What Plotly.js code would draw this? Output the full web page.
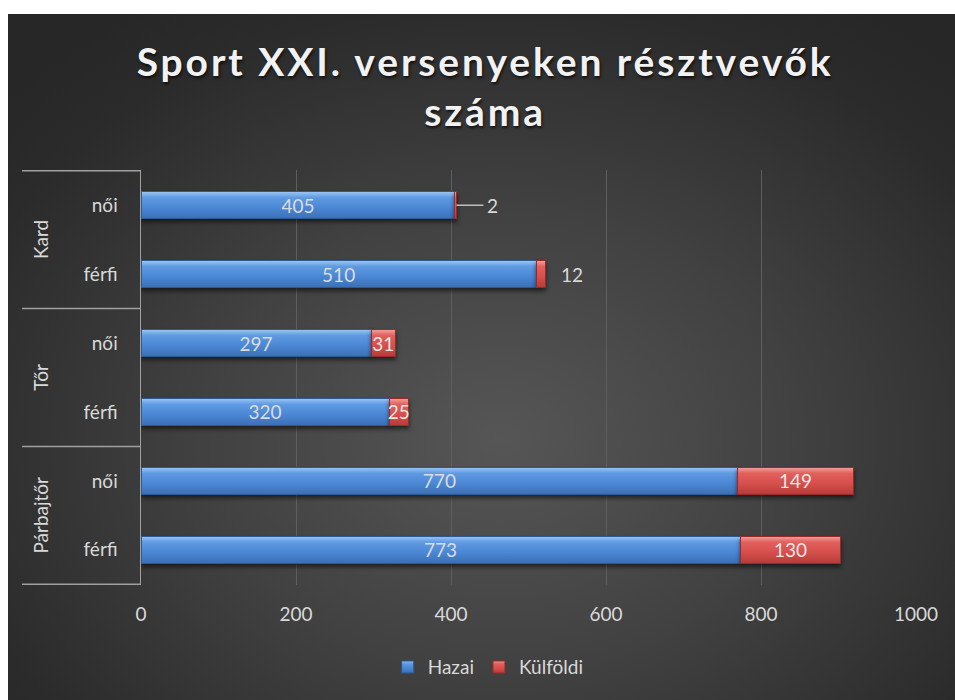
<!DOCTYPE html>
<html>
<head>
<meta charset="utf-8">
<script src="https://cdn.plot.ly/plotly-3.0.1.min.js"></script>
<style>
  html, body { margin:0; padding:0; background:#ffffff; }
  #bg { position:absolute; left:8px; top:14px; width:947px; height:686px;
        background: radial-gradient(ellipse 70% 75% at 52% 62%, #565656 0%, #414141 45%, #2b2b2b 85%, #272727 100%); }
  #chart { position:absolute; left:0; top:0; width:955px; height:700px; }
  .gtitle { letter-spacing: 2.9px; }
  .barlayer .trace:nth-of-type(1) .point path { fill: url(#gBlue) !important; }
  .barlayer .trace:nth-of-type(2) .point path { fill: url(#gRed) !important; }
  .barlayer .point path { filter: drop-shadow(0px 3px 2px rgba(0,0,0,0.55)); }
  .legend .traces:nth-of-type(1) .legendpoints path { fill: url(#gBlue) !important; }
  .legend .traces:nth-of-type(2) .legendpoints path { fill: url(#gRed) !important; }
</style>
</head>
<body>
<svg width="0" height="0" style="position:absolute">
  <defs>
    <linearGradient id="gBlue" x1="0" y1="0" x2="0" y2="1">
      <stop offset="0" stop-color="#9cc6f5"/>
      <stop offset="0.22" stop-color="#5f9ae2"/>
      <stop offset="0.6" stop-color="#4a87d4"/>
      <stop offset="1" stop-color="#3b6fb5"/>
    </linearGradient>
    <linearGradient id="gRed" x1="0" y1="0" x2="0" y2="1">
      <stop offset="0" stop-color="#f2a19e"/>
      <stop offset="0.22" stop-color="#e1605c"/>
      <stop offset="0.6" stop-color="#d64f4c"/>
      <stop offset="1" stop-color="#b53c39"/>
    </linearGradient>
  </defs>
</svg>
<div id="bg"></div>
<div id="chart"></div>
<script>
// ---- data ----
const groups   = ['Kard', 'Kard', 'Tőr', 'Tőr', 'Párbajtőr', 'Párbajtőr'];
const genders  = ['női', 'férfi', 'női', 'férfi', 'női', 'férfi'];
const hazai    = [405, 510, 297, 320, 770, 773];
const kulfoldi = [2, 12, 31, 25, 149, 130];
const seriesNames = ['Hazai', 'Külföldi'];
const xTicks = [0, 200, 400, 600, 800, 1000];

// ---- build ----
const cats = groups.map((g, i) => g + ' ' + genders[i]);
const labelColor = '#d9d9d9';
const fontFam = 'Lato, "Open Sans", sans-serif';

// outside labels for tiny foreign values handled by annotations
const outsideIdx = kulfoldi.map((v, i) => i).filter(i => kulfoldi[i] < 20);
const kText = kulfoldi.map((v, i) => outsideIdx.includes(i) ? '' : String(v));

const traces = [
  {
    type: 'bar', orientation: 'h', name: seriesNames[0],
    y: cats, x: hazai, text: hazai.map(String),
    textposition: 'inside', insidetextanchor: 'middle', constraintext: 'none',
    textfont: { family: fontFam, size: 19, color: '#dcdcdc' },
    marker: { color: '#4a88d6', line: { color: '#2c5a94', width: 1 } },
    hoverinfo: 'skip'
  },
  {
    type: 'bar', orientation: 'h', name: seriesNames[1],
    y: cats, x: kulfoldi, text: kText,
    textposition: 'inside', insidetextanchor: 'middle', constraintext: 'none',
    textfont: { family: fontFam, size: 19, color: '#e6e6e6' },
    marker: { color: '#d64f4c', line: { color: '#9a2a28', width: 1 } },
    hoverinfo: 'skip', cliponaxis: false
  }
];

// group labels and dividers
const uniqueGroups = [...new Set(groups)];
const annotations = [];
const shapes = [];
uniqueGroups.forEach(g => {
  const idx = groups.map((x, i) => x === g ? i : -1).filter(i => i >= 0);
  const mid = (idx[0] + idx[idx.length - 1]) / 2;
  annotations.push({
    text: g, xref: 'paper', yref: 'y', x: -0.130, y: mid, showarrow: false,
    textangle: -90, font: { family: fontFam, size: 19, color: labelColor },
    xanchor: 'center', yanchor: 'middle'
  });
  shapes.push({ type: 'line', xref: 'paper', yref: 'y', x0: -0.1535, x1: 0,
    y0: idx[0] - 0.5, y1: idx[0] - 0.5, line: { color: '#a0a0a0', width: 1.5 } });
});
shapes.push({ type: 'line', xref: 'paper', yref: 'y', x0: -0.1535, x1: 0,
  y0: cats.length - 0.5, y1: cats.length - 0.5, line: { color: '#a0a0a0', width: 1.5 } });

outsideIdx.forEach(i => {
  const end = hazai[i] + kulfoldi[i];
  if (kulfoldi[i] < 5) {
    annotations.push({
      text: String(kulfoldi[i]), xref: 'x', yref: 'y', x: end, y: cats[i],
      showarrow: true, arrowhead: 0, arrowwidth: 1.5, arrowcolor: '#bfbfbf',
      ax: 29, ay: 0, xanchor: 'left', standoff: 0, startstandoff: 2,
      font: { family: fontFam, size: 19, color: labelColor }
    });
  } else {
    annotations.push({
      text: String(kulfoldi[i]), xref: 'x', yref: 'y', x: end, y: cats[i],
      showarrow: false, xanchor: 'left', xshift: 13,
      font: { family: fontFam, size: 19, color: labelColor }
    });
  }
});

const layout = {
  width: 955, height: 700,
  paper_bgcolor: 'rgba(0,0,0,0)', plot_bgcolor: 'rgba(0,0,0,0)',
  margin: { l: 141, r: 39, t: 170, b: 115 },
  title: {
    text: 'Sport XXI. versenyeken résztvevők<br>száma',
    font: { family: fontFam, size: 39, color: '#f2f2f2', weight: 'bold',
            shadow: '1px 2px 3px rgba(0,0,0,0.7)' },
    x: 0.508, xanchor: 'center', y: 0.892, yanchor: 'top'
  },
  barmode: 'stack', bargap: 0.61,
  xaxis: {
    range: [0, 1000], tickvals: xTicks, ticktext: xTicks.map(String),
    showgrid: true, gridcolor: '#5e5e5e', gridwidth: 1,
    zeroline: false, showline: false, ticks: '',
    ticklabelstandoff: 16,
    tickfont: { family: fontFam, size: 19, color: labelColor }, fixedrange: true
  },
  yaxis: {
    type: 'category', categoryorder: 'array', categoryarray: cats,
    autorange: 'reversed', tickvals: cats, ticktext: genders,
    showline: true, linecolor: '#a0a0a0', linewidth: 1.5,
    showgrid: false, zeroline: false, ticks: '',
    ticklabelstandoff: 18,
    tickfont: { family: fontFam, size: 19, color: labelColor }, fixedrange: true
  },
  legend: {
    orientation: 'h', x: 0.448, xanchor: 'center', y: -0.198, yanchor: 'middle',
    traceorder: 'normal', font: { family: fontFam, size: 19, color: labelColor },
    itemwidth: 30
  },
  annotations: annotations,
  shapes: shapes,
  showlegend: true
};

Plotly.newPlot('chart', traces, layout, { displayModeBar: false, staticPlot: true });
</script>
</body>
</html>
